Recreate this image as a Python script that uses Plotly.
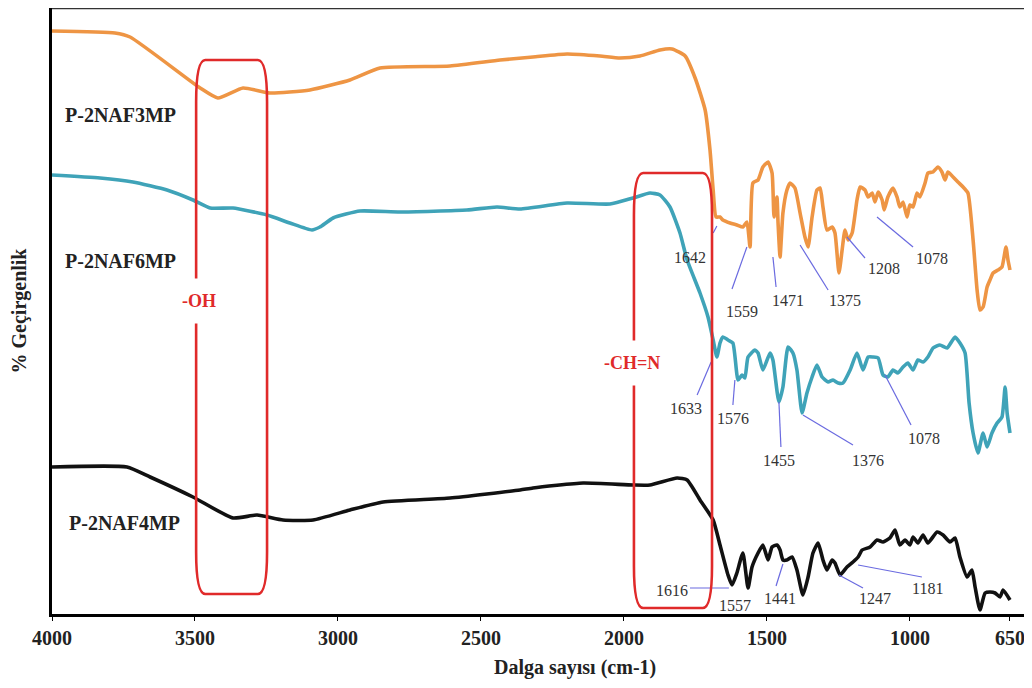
import plotly.graph_objects as go

# ---------------- data (wavenumber cm-1, offset transmittance a.u.) ----------------
w_3mp = [4000, 3780, 3727, 3482, 3420, 3332, 3238, 3098, 2958, 2853, 2608, 2433, 2318, 2199, 2084,
         2014, 1944, 1874, 1832, 1786, 1751, 1716, 1699, 1688, 1678, 1664, 1654, 1629, 1605, 1584,
         1570, 1559, 1549, 1531, 1514, 1496, 1482, 1475, 1465, 1461, 1454, 1444, 1430, 1419, 1402,
         1384, 1367, 1356, 1342, 1325, 1314, 1304, 1290, 1272, 1262, 1248, 1237, 1227, 1216, 1202,
         1185, 1174, 1157, 1146, 1132, 1122, 1111, 1097, 1090, 1077, 1059, 1045, 1035, 1024, 1010,
         1000, 989, 975, 965, 947, 937, 919, 902, 888, 877, 867, 849, 832, 814, 797, 779, 765, 755,
         744, 730, 720, 709, 692, 678, 664, 657, 650]
t_3mp = [583, 581, 577, 526, 516, 526, 521, 524, 534, 546, 548, 554, 557, 560, 558,
         556, 558, 564, 565, 558, 536, 504, 464, 424, 397, 397, 394, 391, 389, 387,
         392, 367, 431, 434, 447, 452, 441, 397, 417, 391, 357, 401, 424, 431, 426,
         401, 377, 367, 397, 424, 426, 407, 384, 387, 381, 341, 364, 384, 374, 381,
         414, 427, 424, 417, 421, 412, 422, 414, 404, 417, 426, 417, 407, 412, 397,
         409, 407, 421, 417, 431, 441, 442, 447, 442, 434, 442, 437, 432, 427, 421, 374, 324, 304,
         307, 327, 334, 341, 344, 347, 367, 354, 344]

w_6mp = [4000, 3832, 3717, 3598, 3507, 3447, 3367, 3248, 3168, 3091, 3063, 3017, 2923, 2783, 2549,
         2444, 2363, 2199, 2049, 1968, 1909, 1874, 1839, 1804, 1779, 1734, 1706, 1688, 1675, 1664,
         1654, 1636, 1619, 1601, 1587, 1577, 1566, 1542, 1531, 1514, 1489, 1479, 1458, 1444, 1426,
         1409, 1395, 1377, 1360, 1342, 1325, 1307, 1286, 1269, 1251, 1234, 1209, 1185, 1164, 1146,
         1129, 1111, 1094, 1077, 1059, 1042, 1024, 1007, 989, 972, 954, 937, 919, 895, 870, 842,
         825, 807, 793, 779, 762, 744, 730, 713, 695, 678, 667, 660, 650]
t_6mp = [439, 436, 432, 424, 414, 406, 406, 399, 391, 384, 387, 396, 403, 402, 404,
         407, 405, 411, 410, 416, 421, 419, 407, 381, 354, 321, 297, 274, 257, 271,
         277, 274, 271, 234, 239, 236, 257, 264, 261, 244, 261, 254, 212, 227, 267,
         261, 244, 201, 221, 237, 249, 237, 232, 234, 231, 231, 244, 261, 244, 257,
         257, 256, 239, 237, 244, 241, 247, 251, 244, 254, 252, 257, 266, 269, 266, 277,
         271, 261, 211, 181, 161, 181, 167, 181, 191, 197, 227, 201, 181]

w_4mp = [4000, 3738, 3657, 3507, 3367, 3283, 3192, 3087, 2958, 2842, 2608, 2363, 2318, 2143, 1968,
         1909, 1814, 1779, 1734, 1688, 1664, 1636, 1622, 1605, 1584, 1566, 1552, 1531, 1514, 1496,
         1482, 1465, 1454, 1444, 1430, 1412, 1395, 1374, 1356, 1339, 1321, 1304, 1290, 1272, 1262,
         1244, 1220, 1199, 1181, 1167, 1139, 1115, 1094, 1070, 1052, 1035, 1017, 1000, 989, 972,
         954, 937, 905, 884, 860, 842, 825, 800, 783, 772, 755, 737, 720, 702, 685, 674, 650]
t_4mp = [147, 147, 137, 117, 96, 99, 94, 94, 104, 112, 116, 124, 126, 131, 129,
         129, 136, 134, 114, 94, 69, 39, 29, 41, 61, 26, 47, 61, 69, 54,
         67, 69, 64, 54, 54, 57, 44, 19, 37, 61, 71, 54, 44, 54, 51,
         39, 47, 52, 57, 64, 67, 74, 72, 76, 84, 69, 74, 69, 77, 71,
         79, 71, 82, 79, 72, 76, 57, 37, 44, 27, 4, 21, 22, 21, 17, 24, 14]

series_names = ["P-2NAF3MP", "P-2NAF6MP", "P-2NAF4MP"]
series_colors = ["#EE9544", "#3FA3B8", "#111111"]
series_label_pos = [(3962, 499), (3962, 353), (3948, 91)]

# peak labels: (text, label_x, label_y, line_from_x, line_from_y, line_to_x, line_to_y)
peak_labels = [
    ("1642", 1769, 357, 1688, 381, 1675, 388),
    ("1559", 1587, 303, 1622, 325, 1570, 367),
    ("1471", 1426, 314, 1468, 327, 1479, 357),
    ("1375", 1227, 314, 1286, 324, 1384, 369),
    ("1208", 1090, 346, 1157, 356, 1220, 377),
    ("1078", 923, 356, 989, 367, 1115, 397),
    ("1633", 1783, 206, 1744, 219, 1695, 252),
    ("1576", 1619, 196, 1619, 209, 1612, 234),
    ("1455", 1458, 154, 1451, 167, 1458, 212),
    ("1376", 1146, 154, 1199, 169, 1374, 199),
    ("1078", 951, 176, 996, 189, 1087, 239),
    ("1616", 1832, 24, 1769, 26, 1633, 26),
    ("1557", 1612, 9, None, None, None, None),
    ("1441", 1454, 16, 1468, 28, 1444, 50),
    ("1247", 1122, 16, 1164, 26, 1248, 39),
    ("1181", 937, 26, 958, 37, 1181, 49),
]

# highlighted bands: (label, left_w, right_w, top, bottom, label_x, label_y)
bands = [("-OH", 3496, 3248, 554, 20, 3486, 313),
         ("-CH=N", 1965, 1692, 441, 6, 1972, 251)]

x_ticks = [4000, 3500, 3000, 2500, 2000, 1500, 1000, 650]
x_title = "Dalga sayısı (cm-1)"
y_title = "% Geçirgenlik"

SERIF = "Liberation Serif, Times New Roman, serif"

fig = go.Figure()
for name, xs, ys, col in zip(series_names, [w_3mp, w_6mp, w_4mp], [t_3mp, t_6mp, t_4mp], series_colors):
    fig.add_trace(go.Scatter(x=xs, y=ys, mode="lines", name=name,
                             line=dict(color=col, width=3.6, shape="spline", smoothing=0.5),
                             showlegend=False))

annotations = []
for name, (lx, ly) in zip(series_names, series_label_pos):
    annotations.append(dict(x=lx, y=ly, xref="x", yref="y", text="<b>" + name + "</b>",
                            showarrow=False, xanchor="left", yanchor="middle",
                            font=dict(family=SERIF, size=20, color="#222222")))

shapes = []
for txt, lx, ly, x0, y0, x1, y1 in peak_labels:
    annotations.append(dict(x=lx, y=ly, xref="x", yref="y", text=txt, showarrow=False,
                            font=dict(family=SERIF, size=16, color="#333333")))
    if x0 is not None:
        shapes.append(dict(type="line", xref="x", yref="y", x0=x0, y0=y0, x1=x1, y1=y1,
                           line=dict(color="#6A6AE0", width=1.2)))

for lab, xl, xr, yt, yb, tx, ty in bands:
    rx = 32
    ry = 42
    path = (f"M {xl},{yt - ry} Q {xl},{yt} {xl - rx},{yt} L {xr + rx},{yt} "
            f"Q {xr},{yt} {xr},{yt - ry} L {xr},{yb + ry} Q {xr},{yb} {xr + rx},{yb} "
            f"L {xl - rx},{yb} Q {xl},{yb} {xl},{yb + ry} Z")
    shapes.append(dict(type="path", xref="x", yref="y", path=path,
                       line=dict(color="#E02A2A", width=2.6), layer="above"))
    annotations.append(dict(x=tx, y=ty, xref="x", yref="y", text="<b>" + lab + "</b>",
                            showarrow=False, bgcolor="white", borderpad=12,
                            font=dict(family=SERIF, size=18, color="#E02A2A")))

# x-axis title (placed slightly right of centre, as in the original)
annotations.append(dict(x=0.534, y=-0.089, xref="paper", yref="paper",
                        text="<b>" + x_title + "</b>", showarrow=False,
                        xanchor="center", yanchor="middle",
                        font=dict(family=SERIF, size=20, color="#222222")))

# top frame line
shapes.append(dict(type="line", xref="paper", yref="paper", x0=0, x1=1, y0=1, y1=1,
                   line=dict(color="#333333", width=2.5)))

# the page adds an 8px body margin, so the figure is sized to fit inside it
fig.update_layout(
    width=1024, height=680,
    margin=dict(l=44, r=0, t=0, b=74),
    paper_bgcolor="white", plot_bgcolor="white",
    annotations=annotations, shapes=shapes,
    xaxis=dict(range=[4000, 573], tickvals=x_ticks,
               ticktext=["<b>%d</b>" % v for v in x_ticks],
               tickfont=dict(family=SERIF, size=20, color="#222222"),
               showgrid=False, zeroline=False, showline=True, linecolor="black", linewidth=3,
               ticks="outside", ticklen=4, tickcolor="black",
               automargin=False),
    yaxis=dict(range=[0, 606], showticklabels=False, showgrid=False, zeroline=False,
               showline=True, linecolor="black", linewidth=3, ticks="",
               title=dict(text="<b>" + y_title + "</b>", standoff=20,
                          font=dict(family=SERIF, size=20, color="#222222")),
               automargin=False),
)

fig.write_html("out.html")
